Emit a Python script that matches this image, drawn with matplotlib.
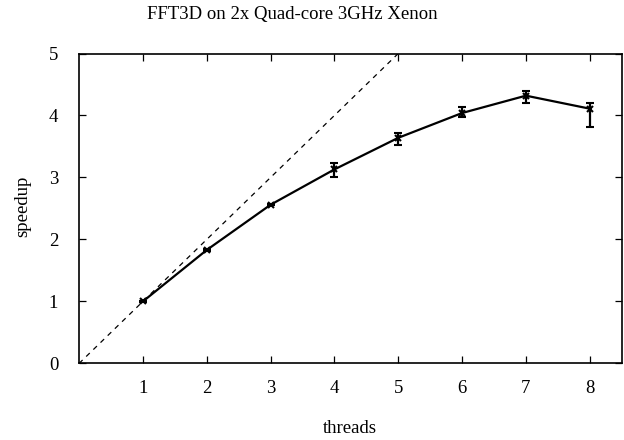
import matplotlib
matplotlib.use("Agg")
import matplotlib.pyplot as plt

threads = [1, 2, 3, 4, 5, 6, 7, 8]
speedup = [1.00, 1.83, 2.56, 3.13, 3.64, 4.04, 4.32, 4.11]
err_low = [0.99, 1.82, 2.55, 3.01, 3.53, 3.97, 4.20, 3.81]
err_high = [1.01, 1.85, 2.58, 3.24, 3.72, 4.13, 4.40, 4.20]
ideal_x = [0, 5]
ideal_y = [0, 5]
xticks = [1, 2, 3, 4, 5, 6, 7, 8]
yticks = [0, 1, 2, 3, 4, 5]

plt.rcParams['font.family'] = ['Liberation Serif', 'DejaVu Serif']
fs = 13.5
plt.rcParams['font.size'] = fs

fig = plt.figure(figsize=(6.24, 4.4), dpi=100)
ax = fig.add_axes([0.1266, 0.1739, 0.8697, 0.7045])

ax.plot(ideal_x, ideal_y, color='black', linestyle=(0, (4, 4)), linewidth=0.9)
yerr = [[s - l for s, l in zip(speedup, err_low)], [h - s for s, h in zip(speedup, err_high)]]
ax.errorbar(threads, speedup, yerr=yerr, color='black', linewidth=1.6,
            marker='x', markersize=4, markeredgewidth=1.5,
            elinewidth=1.6, capsize=3, capthick=1.4)

ax.set_xlim(0, 8.5)
ax.set_ylim(0, 5)
ax.set_xticks(xticks)
ax.set_yticks(yticks)
ax.tick_params(direction='in', top=True, right=True, length=5, width=0.9, labelsize=fs)
ax.tick_params(axis='x', pad=12)
ax.tick_params(axis='y', pad=15)
for s in ax.spines.values():
    s.set_linewidth(1.2)

fig.text(0.469, 0.968, 'FFT3D on 2x Quad-core 3GHz Xenon', ha='center', va='center', fontsize=fs)
fig.text(0.561, 0.027, 'threads', ha='center', va='center', fontsize=fs)
fig.text(0.036, 0.53, 'speedup', ha='center', va='center', rotation=90, fontsize=fs)

fig.savefig('out.png', dpi=100)
